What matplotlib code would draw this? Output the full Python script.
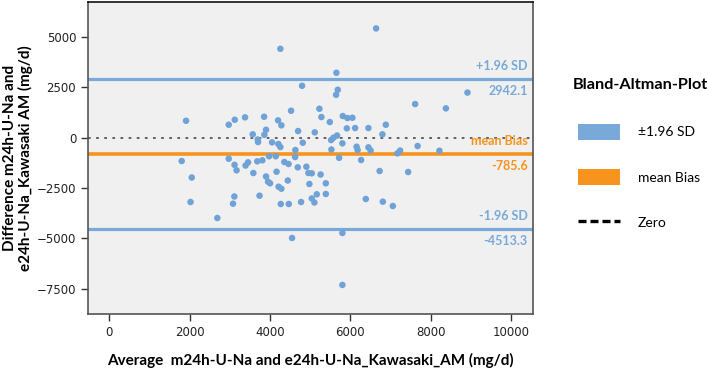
import numpy as np
import matplotlib
matplotlib.use('Agg')
import matplotlib.pyplot as plt
from matplotlib.patches import Patch
from matplotlib.lines import Line2D

# averages (mg/d) and differences (mg/d)
avg_vals = [6643, 4260, 5655, 4800, 5689, 5647, 8918, 7615, 8380, 1911,
            4526, 5231, 5281, 2974, 3124, 3380, 3854, 4202, 4285, 5490,
            5814, 5929, 6053, 5914, 6120, 6452, 6885, 6800, 3903, 4701,
            5116, 3572, 3861, 3697, 3704, 4053, 4210, 4260, 4818, 5523,
            5580, 5672, 5804, 4633, 5530, 6158, 6183, 6452, 6507, 7174,
            7241, 7677, 8220, 1803, 2974, 3119, 3169, 3393, 3455, 3684,
            3811, 3978, 4145, 4626, 4359, 4464, 4693, 4907, 5722, 6270,
            3587, 3903, 3953, 4003, 4165, 4444, 4215, 4285, 4957, 5042,
            5261, 4982, 5391, 5391, 5166, 5042, 5107, 6731, 7441, 2053,
            2023, 2690, 3114, 3081, 3741, 4270, 4469, 4775, 6387, 6810,
            7060, 4551, 5804, 5804]
diff_vals = [5433, 4420, 3228, 2582, 2384, 2135, 2245, 1674, 1460, 844,
             1341, 1440, 1028, 646, 894, 1013, 1043, 864, 616, 780,
             1078, 978, 993, 467, 482, 482, 646, 169, 397, 333,
             268, 169, 149, -89, -214, -228, -313, -462, -248, -114,
             0, 109, -278, -611, -586, -447, -611, -477, -636, -775,
             -636, -412, -646, -1157, -1043, -1346, -1619, -1381, -1222, -1172,
             -1122, -919, -919, -958, -1207, -1306, -1470, -1440, -998, -1107,
             -1753, -1927, -2185, -2264, -1688, -2125, -2433, -2533, -1753, -1768,
             -1827, -2299, -2264, -2796, -2811, -3019, -3218, -1654, -1703, -1976,
             -3193, -3988, -2920, -3278, -2880, -3292, -3292, -3193, -3044, -3178,
             -3392, -4981, -4733, -7315]

upper_loa = 2942.1
mean_bias = -785.6
lower_loa = -4513.3

x_ticks = [0, 2000, 4000, 6000, 8000, 10000]
y_ticks = [-7500, -5000, -2500, 0, 2500, 5000]

BLUE = '#78a9d9'
DOT = '#6fa2d6'
ORANGE = '#f7941d'

fig = plt.figure(figsize=(7.09, 3.68), dpi=100)
ax = fig.add_axes([0.1241, 0.1467, 0.6277, 0.8492])
ax.set_facecolor('#f0f0f0')

ax.axhline(0, color='#555555', lw=1.3, dashes=(1.5, 3.0), zorder=2)
ax.axhline(upper_loa, color=BLUE, lw=2.3, zorder=2)
ax.axhline(lower_loa, color=BLUE, lw=2.3, zorder=2)
ax.axhline(mean_bias, color=ORANGE, lw=2.6, zorder=2)
ax.scatter(avg_vals, diff_vals, s=22, color=DOT, edgecolors='none', zorder=3)

ax.set_xlim(-530, 10550)
ax.set_ylim(-8760, 6770)
ax.set_xticks(x_ticks)
ax.set_yticks(y_ticks)
ax.tick_params(direction='out', length=5, width=1, color='#333333',
               labelsize=8.5, labelcolor='#222222')
for s in ax.spines.values():
    s.set_color('#555555')
    s.set_linewidth(1.2)
ax.spines['top'].set_color('#111111')

lab = dict(family='Lato', fontweight='bold', fontsize=11)
ax.set_xlabel('Average  m24h-U-Na and e24h-U-Na_Kawasaki_AM (mg/d)',
              labelpad=10, **lab)
ax.set_ylabel('Difference m24h-U-Na and\ne24h-U-Na_Kawasaki AM (mg/d)',
              labelpad=3, linespacing=1.0, **lab)

# line annotations on the right edge
tx = 10420
ann = dict(family='Lato', fontweight='bold', fontsize=9, ha='right')
ax.text(tx, upper_loa + 330, '+1.96 SD', color=BLUE, va='bottom', **ann)
ax.text(tx, upper_loa - 330, f'{upper_loa:.1f}', color=BLUE, va='top', **ann)
ax.text(tx, mean_bias + 330, 'mean Bias', color=ORANGE, va='bottom', **ann)
ax.text(tx, mean_bias - 330, f'{mean_bias:.1f}', color=ORANGE, va='top', **ann)
ax.text(tx, lower_loa + 330, '-1.96 SD', color=BLUE, va='bottom', **ann)
ax.text(tx, lower_loa - 330, f'{lower_loa:.1f}', color=BLUE, va='top', **ann)

handles = [Patch(facecolor=BLUE, edgecolor='none', label='±1.96 SD'),
           Patch(facecolor=ORANGE, edgecolor='none', label='mean Bias'),
           Line2D([0], [0], color='black', lw=2.4, dashes=(2.4, 1.2), label='Zero')]
leg = fig.legend(handles=handles, loc='upper left', bbox_to_anchor=(0.815, 0.664),
                 frameon=False, borderpad=0, borderaxespad=0,
                 handlelength=3.0, handleheight=1.4,
                 handletextpad=1.3, labelspacing=2.12,
                 prop=dict(family='Lato', size=10))
fig.text(0.808, 0.769, 'Bland-Altman-Plot', family='Lato', fontweight='bold',
         fontsize=11.7, va='center', ha='left')

fig.savefig('out.png', dpi=100)
